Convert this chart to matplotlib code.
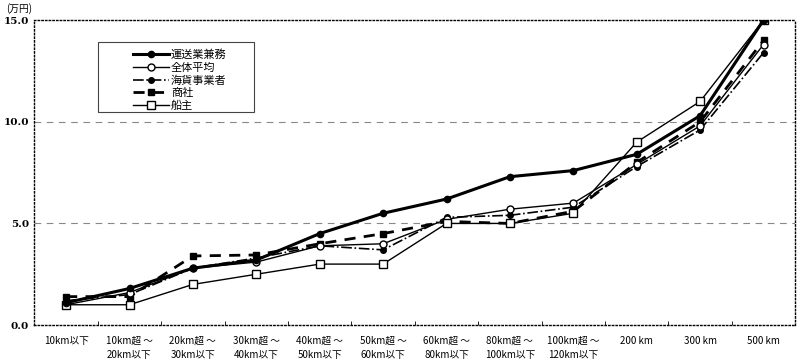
import numpy as np
import matplotlib
matplotlib.use('Agg')
import matplotlib.pyplot as plt
from matplotlib.patches import Rectangle

plt.rcParams['font.family'] = ['Noto Sans CJK JP', 'DejaVu Sans']

categories = ['10km以下', '10km超 ～\n20km以下', '20km超 ～\n30km以下', '30km超 ～\n40km以下',
              '40km超 ～\n50km以下', '50km超 ～\n60km以下', '60km超 ～\n80km以下',
              '80km超 ～\n100km以下', '100km超 ～\n120km以下', '200 km', '300 km', '500 km']

unso   = [1.1, 1.8, 2.8, 3.2, 4.5, 5.5, 6.2, 7.3, 7.6, 8.4, 10.3, 15.0]   # 運送業兼務
zentai = [1.0, 1.6, 2.8, 3.1, 3.9, 4.0, 5.2, 5.7, 6.0, 7.9, 9.8, 13.8]   # 全体平均
kaika  = [1.2, 1.5, 2.8, 3.3, 3.9, 3.7, 5.3, 5.4, 5.8, 7.8, 9.6, 13.4]   # 海貨事業者
shosha = [1.4, 1.4, 3.4, 3.45, 4.0, 4.5, 5.1, 5.0, 5.6, 8.0, 10.0, 14.0] # 商社
senshu = [1.0, 1.0, 2.0, 2.5, 3.0, 3.0, 5.0, 5.0, 5.5, 9.0, 11.0, 15.0]  # 船主

fig = plt.figure(figsize=(8, 3.6), dpi=100)
ax = fig.add_axes([0.043, 0.097, 0.951, 0.847])
x = np.arange(len(categories))

ax.plot(x, unso, '-', color='black', lw=2.2, marker='o', ms=4.5, label='運送業兼務', zorder=5)
ax.plot(x, zentai, '-', color='black', lw=1.0, marker='o', ms=5, mfc='white', mew=1.0,
        label='全体平均', zorder=4)
ax.plot(x, kaika, '-.', color='black', lw=1.2, marker='o', ms=4, label='海貨事業者', zorder=3)
ax.plot(x, shosha, '--', color='black', lw=2.0, marker='s', ms=4.5, dashes=(4, 3),
        label='商社', zorder=3)
ax.plot(x, senshu, '-', color='black', lw=1.0, marker='s', ms=5.5, mfc='white', mew=1.0,
        label='船主', zorder=4)

ax.set_xlim(-0.5, len(categories) - 0.5)
ax.set_ylim(0, 15)
ax.set_yticks([0, 5, 10, 15])
ax.set_yticklabels(['0.0', '5.0', '10.0', '15.0'], family='DejaVu Serif', fontsize=7.5,
                   fontweight='bold')
ax.set_xticks(x)
ax.set_xticklabels(categories, fontsize=7, linespacing=1.45)
ax.set_xticks(np.arange(0.5, len(categories) - 0.5, 1), minor=True)
ax.tick_params(axis='x', which='major', length=0, pad=8)
ax.tick_params(axis='x', which='minor', length=3, direction='in', width=0.6)
ax.tick_params(axis='y', length=0, pad=4)

for v in [5, 10]:
    ax.axhline(v, color='#888888', lw=0.8, ls=(0, (6, 5)), zorder=1)
for s in ax.spines.values():
    s.set_linestyle(':')
    s.set_linewidth(1.0)

fig.text(0.008, 0.975, '(万円)', fontsize=7, va='center', ha='left')

# legend frame drawn separately (wide left margin like the original)
ax.add_patch(Rectangle((0.083, 0.698), 0.205, 0.23, transform=ax.transAxes,
                       fill=True, facecolor='white', edgecolor='#444444', lw=0.8, zorder=6))
leg = ax.legend(loc='upper left', bbox_to_anchor=(0.115, 0.94), fontsize=8,
                frameon=False, handlelength=3.2, borderpad=0.5, labelspacing=0.22,
                handletextpad=0.2)
leg.set_zorder(7)

fig.savefig('out.png', dpi=100)
